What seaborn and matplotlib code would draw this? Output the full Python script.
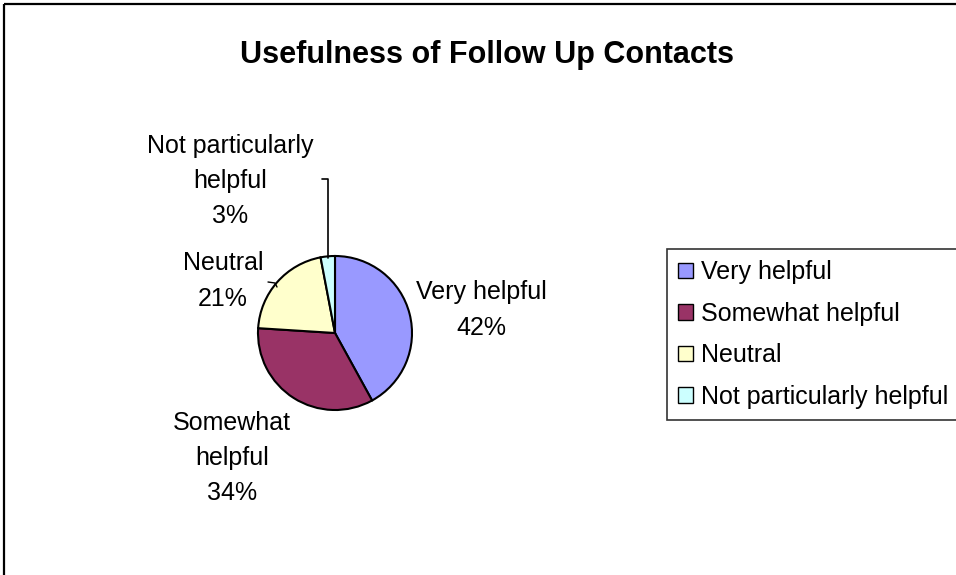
import matplotlib
matplotlib.use("Agg")
import matplotlib.pyplot as plt
from matplotlib.patches import Rectangle, Patch
import seaborn as sns

categories = ["Very helpful", "Somewhat helpful", "Neutral", "Not particularly helpful"]
shares = [42, 34, 21, 3]
pie_labels = ["Very helpful\n42%", "Somewhat\nhelpful\n34%", "Neutral\n21%",
              "Not particularly\nhelpful\n3%"]
title = "Usefulness of Follow Up Contacts"

sns.set_theme(style="white")
plt.rcParams["font.family"] = ["Liberation Sans", "DejaVu Sans"]
plt.rcParams["text.color"] = "black"
colors = sns.color_palette(["#9999FF", "#993366", "#FFFFCC", "#CCFFFF"])

W, H = 956, 575
fig = plt.figure(figsize=(W / 100, H / 100), dpi=100)
ax = fig.add_axes([0, 0, 1, 1])

# pie (y axis is inverted below, so counterclock=True draws clockwise on screen)
cx, cy, r = 335, 333, 77
ax.pie(shares, colors=colors, startangle=-90, counterclock=True,
       center=(cx, cy), radius=r, frame=True,
       wedgeprops=dict(edgecolor="black", linewidth=1.5))
ax.set_xlim(0, W)
ax.set_ylim(H, 0)
ax.set_aspect("equal")
ax.axis("off")

# outer chart frame
ax.add_patch(Rectangle((4, 4), 1200, 1200, fill=False, edgecolor="black", linewidth=1.6))

# slice labels
label_pos = [(481, 310), (232, 458), (223, 281), (230, 181)]
for txt, (x, y) in zip(pie_labels, label_pos):
    ax.text(x, y, txt, ha="center", va="center", fontsize=18,
            linespacing=1.58, color="black")

# leader lines
ax.plot([322, 328, 328], [179, 179, 258], color="black", linewidth=1.2)
ax.plot([268, 275, 277], [282, 283, 287], color="black", linewidth=1.0)

ax.text(487, 55, title, ha="center", va="center", fontsize=22,
        fontweight="bold", color="black")

handles = [Patch(facecolor=c, edgecolor="black", linewidth=1.0) for c in colors]
leg = fig.legend(handles, categories, loc="upper left",
                 bbox_to_anchor=(667 / W, 1 - 249 / H), fontsize=18,
                 frameon=True, fancybox=False, edgecolor="black",
                 handlelength=0.6, handleheight=0.6, handletextpad=0.3,
                 labelspacing=0.7, borderpad=0.45, borderaxespad=0)
leg.get_frame().set_linewidth(1.2)
for t in leg.get_texts():
    t.set_color("black")

fig.savefig("out.png", dpi=100)
